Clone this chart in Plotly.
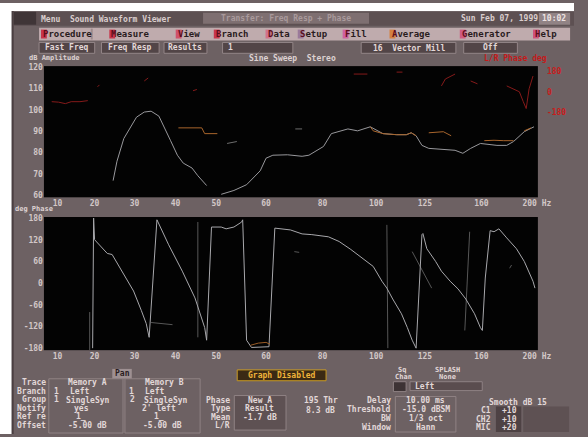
import plotly.graph_objects as go

W, H = 588, 437

# ---------------- data ----------------
# x = sweep point index along the frequency axis (0 .. 507)
freq_tick_labels = ["10", "20", "30", "40", "50", "60", "80", "100", "125", "160", "200 Hz"]
freq_tick_points = [14, 52, 93, 135, 177, 228, 286, 341, 391, 449, 506]

amp_ticks = [60, 70, 80, 90, 100, 110, 120]
lr_phase_ticks = [-180, 0, 180]
phase_ticks = [-180, -120, -60, 0, 60, 120, 180]

# Memory A (left) amplitude, dB
amp_left_x = [71, 75, 82, 88, 95, 103, 110, 118, 123, 130, 137, 143, 152, 158, 167, None,
              182, 195, 208, 222, 228, 235, 250, 265, 272, 278, 287, 295, 302, 312, 322,
              335, 348, 362, 372, 377, 382, 388, 395, 412, 422, 430, 438, 448, 455, 465,
              475, 482, 493, 498, 503]
amp_left_db = [66.9, 76.0, 86.6, 91.1, 96.6, 99.0, 99.4, 97.1, 92.5, 85.6, 78.8, 75.1, 72.8,
               69.2, 64.6, None, 60.5, 62.3, 65.0, 71.5, 77.4, 78.8, 79.0, 78.3, 78.8, 80.6,
               82.9, 88.9, 89.8, 91.1, 90.2, 92.1, 88.9, 88.4, 88.4, 89.3, 87.9, 83.4, 82.0,
               81.5, 81.1, 79.7, 82.0, 84.3, 83.8, 83.4, 83.4, 85.2, 89.8, 91.1, 92.1]

# Memory B (right) amplitude, dB
amp_right_x = [138, 150, 162, 165, 178, None, 335, 338, 348, 362, 372, 377, 382, None,
               395, 410, 418, None, 452, 462, 472, 482, None, 493, 500]
amp_right_db = [91.6, 91.6, 91.6, 88.9, 88.9, None, 92.1, 90.2, 88.9, 88.4, 88.4, 89.3, 87.9,
                None, 89.3, 89.8, 87.9, None, 85.6, 85.8, 85.6, 85.6, None, 90.2, 91.6]

# stray amplitude fragments
amp_stray_x = [188, 198, None, 258, 265]
amp_stray_db = [84.3, 85.2, None, 91.1, 91.1]

# L/R phase difference, deg (right-hand scale)
lr_phase_x = [8, 15, 22, 28, 37, 45, None, 55, 57, None, 103, 107, None, 153, 157, None,
              318, 332, None, 362, 368, None, 408, 412, 422, None, 438, 445, None,
              475, 488, 492, 495, 498, 502]
lr_phase_deg = [-86, -90, -103, -86, -86, -77, None, 43, 60, None, 94, 120, None, 9, 20, None,
                154, 154, None, 171, 171, None, 51, 111, 154, None, 94, 69, None,
                51, 0, -86, -146, 26, 137]

# wrapped phase, deg
phase_main_x = [50, 51, 52, 65, 70, 82, 92, 100, 105, 108, 113, 116, 128, 142, 155, 165,
                167, 172, 182, 187, 195, 203, 204, 208, 213, 231, 237, 253, 265, 275, 292,
                303, 315, 328, 338, 347, 352, 358, 367, 373, 378, 382, 385, 388, 389, 393,
                402, 408, 417, 425, 433, 442, 448, 450, 453, 458, 462, 467, 475, 485, 493,
                502, 504]
phase_main_deg = [-180, 180, 120, 82, 79, 25, -22, -76, -112, -150, 60, 175, 106, 33, -41,
                  -123, -158, 155, 155, 150, 155, 169, 175, -158, -178, -176, 152, 147, 136,
                  134, 128, 115, 93, 65, 46, 5, -14, -44, -85, -123, -158, -180, -3, 134,
                  137, 95, 60, 33, 5, -16, -44, -85, -123, -131, 14, 145, 142, 150, 125,
                  95, 60, 5, -14]

phase_alt_x = [47, 47, None, 110, 132, None, 158, 158, None, 257, 262, None, 352, 353, None,
               378, 398, None, 432, 437, None, 478, 480]
phase_alt_deg = [-80, -185, None, -109, -115, None, 169, -150, None, 87, 85, None, 161, -180,
                 None, 87, -14, None, -131, 142, None, 41, 50]

phase_orange_x = [212, 220, 228, 232]
phase_orange_deg = [-172, -166, -164, -169]

# ---------------- styling helpers ----------------
GRAY = "#6d6163"
TXT = "#e2d8d8"
MONO = "DejaVu Sans Mono"


def px(x):
    return x / W


def py(y):
    return 1 - y / H


shapes = []
annotations = []


def rect(x0, y0, x1, y1, fill=None, line=None, lw=1):
    shapes.append(dict(type="rect", xref="paper", yref="paper",
                       x0=px(x0), x1=px(x1), y0=py(y0), y1=py(y1),
                       fillcolor=fill if fill else "rgba(0,0,0,0)",
                       line=dict(color=line if line else "rgba(0,0,0,0)", width=lw if line else 0),
                       layer="below"))


def text(s, x, y, color=TXT, size=8, anchor="left", bold=True):
    annotations.append(dict(text=f"<b>{s}</b>" if bold else s, x=px(x), y=py(y),
                            xref="paper", yref="paper", showarrow=False,
                            xanchor=anchor, yanchor="middle",
                            font=dict(family=MONO, size=size, color=color)))


# ---------------- traces ----------------
fig = go.Figure()
fig.add_trace(go.Scatter(x=lr_phase_x, y=lr_phase_deg, xaxis="x", yaxis="y2", mode="lines",
                         line=dict(color="#861a1a", width=1), connectgaps=False))
fig.add_trace(go.Scatter(x=amp_stray_x, y=amp_stray_db, xaxis="x", yaxis="y", mode="lines",
                         line=dict(color="#6e6e6e", width=1)))
fig.add_trace(go.Scatter(x=amp_left_x, y=amp_left_db, xaxis="x", yaxis="y", mode="lines",
                         line=dict(color="#98989c", width=1)))
fig.add_trace(go.Scatter(x=amp_right_x, y=amp_right_db, xaxis="x", yaxis="y", mode="lines",
                         line=dict(color="#a8652c", width=1)))
fig.add_trace(go.Scatter(x=phase_alt_x, y=phase_alt_deg, xaxis="x2", yaxis="y3", mode="lines",
                         line=dict(color="#575757", width=1)))
fig.add_trace(go.Scatter(x=phase_main_x, y=phase_main_deg, xaxis="x2", yaxis="y3", mode="lines",
                         line=dict(color="#a8a8ac", width=1)))
fig.add_trace(go.Scatter(x=phase_orange_x, y=phase_orange_deg, xaxis="x2", yaxis="y3", mode="lines",
                         line=dict(color="#9a5c26", width=1)))

# ---------------- window chrome ----------------
# white scan border
shapes.append(dict(type="rect", xref="paper", yref="paper", x0=0, x1=px(12), y0=0, y1=1,
                   fillcolor="white", line=dict(width=0), layer="below"))
shapes.append(dict(type="rect", xref="paper", yref="paper", x0=0, x1=1, y0=py(8), y1=1,
                   fillcolor="white", line=dict(width=0), layer="below"))
rect(12, 8, 14, 437, "#4a3f41")

# title bar
rect(14, 9, 588, 23, "#5d5052")
rect(14, 9, 37, 22, "#3f3537")
text("Menu  Sound Waveform Viewer", 40, 16, "#d9cdcd", 8)
rect(208, 10, 378, 21, "#7e6f71")
text("Transfer: Freq Resp + Phase", 293, 15.5, "#a99a9c", 8, "center")
text("Sun Feb 07, 1999", 512, 16, "#d9cdcd", 8, "center")
rect(552, 10, 584, 22, "#918385")
text("10:02", 568, 16, "#ece2e2", 8, "center")

# menu bar
rect(40, 25, 584, 38, "#bfabad")
menu_items = [("Procedure", 42, "#c8344a"), ("Measure", 112, "#c8344a"), ("View", 180, "#d0506a"),
              ("Branch", 219, "#c8344a"), ("Data", 272, "#d2708a"), ("Setup", 305, "#9a7a9a"),
              ("Fill", 351, "#d060a0"), ("Average", 399, "#d48040"),
              ("Generator", 471, "#d05a80"), ("Help", 546, "#d0507a")]
for label, x0, col in menu_items:
    rect(x0, 27, x0 + 6, 36, col)
    text(f"<span style='color:#5a0f1c'>{label[0]}</span>{label[1:]}", x0, 31.5, "#2a1c1e", 9)
rect(93, 26, 95, 37, "#9c8a8c")

# toolbar buttons
for label, x0, x1 in [("Fast Freq", 40, 97), ("Freq Resp", 104, 163), ("Results", 168, 212),
                      ("1", 228, 300), ("16  Vector Mill", 370, 467), ("Off", 475, 530)]:
    rect(x0, 40, x1, 51, "#524547", "#938587")
    if label == "1":
        text(label, 232, 45.5, TXT, 8)
    else:
        text(label, (x0 + x1) / 2, 45.5, TXT, 8, "center")

# graph titles
text("dB Amplitude", 28, 55.5, "#ddd2d2", 7)
text("Sine Sweep  Stereo", 300, 56, "#ddd2d2", 8, "center")
text("L/R Phase deg", 562, 56, "#c41a1a", 8, "right")
text("deg Phase", 13, 209, "#ddd2d2", 7)

# ---------------- lower control panel ----------------
rect(115, 371, 135, 381, "#9e9092")
text("Pan", 125, 376, "#2a1c1e", 8, "center")
rect(50, 381, 126, 436, None, "#8f8284")
rect(128, 381, 205, 436, None, "#8f8284")
rows_y = [385, 393.5, 402.5, 411, 419.5, 428]
for lab, yy in zip(["Trace", "Branch", "Group", "Notify", "Ref re", "Offset"], rows_y):
    text(lab, 49, yy, TXT, 8, "right")
text("Memory A", 90, rows_y[0], TXT, 8, "center")
text("Memory B", 168, rows_y[0], TXT, 8, "center")
text("1", 53, rows_y[1]); text("Left", 70, rows_y[1])
text("1", 130, rows_y[1]); text("Left", 146, rows_y[1])
text("1", 53, rows_y[2]); text("SingleSyn", 66, rows_y[2])
text("2", 131, rows_y[2]); text("SingleSyn", 145, rows_y[2])
text("yes", 83, rows_y[3], anchor="center"); text("2' left", 163, rows_y[3], anchor="center")
text("1_", 83, rows_y[4], anchor="center"); text("1_", 163, rows_y[4], anchor="center")
text("-5.00 dB", 90, rows_y[5], anchor="center"); text("-5.00 dB", 166, rows_y[5], anchor="center")

rect(243, 372, 334, 383, "#3b2a14", "#c89a22")
text("Graph Disabled", 288.5, 377.5, "#f0b43a", 8, "center")

for lab, yy in zip(["Phase", "Type", "Mean", "L/R"], [403, 411.5, 420, 428.5]):
    text(lab, 238, yy, TXT, 8, "right")
rect(240, 398, 293, 433, "#5e5153", "#8f8284")
text("New A", 266, 403, anchor="center")
text("Result", 266, 411.5, anchor="center")
text("-1.7 dB", 266, 420, anchor="center")
text("195 Thr", 309, 403)
text("8.3 dB", 311, 413)

text("Sq", 406, 372, size=7); text("SPLASH", 458, 372, size=7, anchor="center")
text("Chan", 403, 379.5, size=7); text("None", 458, 379.5, size=7, anchor="center")
rect(403, 384, 416, 394, "#3d3335", "#8f8284")
rect(420, 384, 494, 393, "#5a4d4f", "#8f8284")
text("Left", 423, 388.5)

rect(405, 399, 467, 435, None, "#8f8284")
for lab, val, yy in [("Delay", "10.00 ms", 403), ("Threshold", "-15.0 dBSM", 412),
                     ("BW", "1/3 oct", 421), ("Window", "Hann", 430)]:
    text(lab, 403, yy, TXT, 8, "right")
    text(val, 436, yy, TXT, 8, "center")

text("Smooth dB 15", 562, 405, TXT, 8, "right")
rect(508, 409, 534, 435, "#4e4244")
rect(536, 409, 583, 435, "#5e5153")
for lab, val, yy in [("C1", "+10", 413.5), ("CH2", "+10", 422), ("MIC", "+20", 430.5)]:
    text(lab, 505, yy, TXT, 8, "right")
    text(val, 512, yy)

# ---------------- axes ----------------
tickfont = dict(family=MONO, size=8, color="#d2c7c7")
xcommon = dict(domain=[px(45), px(551)], range=[0, 507], tickmode="array",
               tickvals=freq_tick_points, ticktext=[f"<b>{t}</b>" for t in freq_tick_labels],
               tickfont=tickfont, showgrid=False, zeroline=False, showline=False, ticks="",
               fixedrange=True)

fig.update_layout(
    width=W, height=H, margin=dict(l=0, r=0, t=0, b=0),
    paper_bgcolor=GRAY, plot_bgcolor="#030303", showlegend=False,
    xaxis=dict(anchor="y", **xcommon),
    xaxis2=dict(anchor="y3", **xcommon),
    yaxis=dict(domain=[py(197), py(64)], range=[59.1, 120.5], tickmode="array",
               tickvals=amp_ticks, ticktext=[f"<b>{v}</b>" for v in amp_ticks],
               tickfont=tickfont, showgrid=False, zeroline=False, ticks=""),
    yaxis2=dict(overlaying="y", side="right", anchor="x", range=[-917, 223], tickmode="array",
                tickvals=lr_phase_ticks, ticktext=[f"<b>{v}</b>" for v in lr_phase_ticks],
                tickfont=dict(family=MONO, size=8, color="#c81c1c"), ticklabelstandoff=8,
                showgrid=False, zeroline=False, ticks=""),
    yaxis3=dict(domain=[py(352), py(217)], range=[-185.5, 182.7], anchor="x2", tickmode="array",
                tickvals=phase_ticks, ticktext=[f"<b>{v}</b>" for v in phase_ticks],
                tickfont=tickfont, showgrid=False, zeroline=False, ticks=""),
    shapes=shapes, annotations=annotations,
)

fig.write_html("out.html")
